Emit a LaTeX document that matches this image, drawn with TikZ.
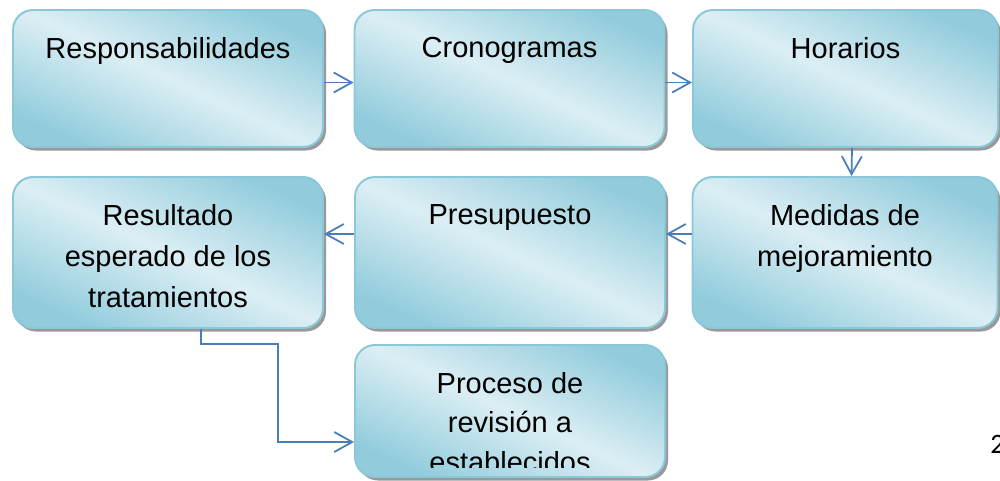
\documentclass[tikz,border=0pt]{standalone}
\usepackage{fontspec}
\setmainfont{Liberation Sans}
\newfontfamily\pagefont{Carlito}
\usetikzlibrary{arrows.meta,shadows}
\definecolor{boxdark}{RGB}{146,204,220}
\definecolor{boxlight}{RGB}{220,238,244}
\definecolor{boxline}{RGB}{138,199,216}
\definecolor{arrowblue}{RGB}{74,126,187}

\tikzset{
  box/.style={rounded corners=0.4cm, draw=boxline, line width=1.1pt,
    top color=boxdark, bottom color=boxdark, middle color=boxlight, shading angle=-25,
    minimum width=6.2cm,
    drop shadow={shadow xshift=0.06cm, shadow yshift=-0.07cm, fill=black!50, opacity=0.8}},
  boxtext/.style={anchor=north, yshift=-0.56cm, inner sep=0pt, align=center,
    font=\fontsize{16.5}{23.3}\selectfont},
  arr/.style={draw=arrowblue, line width=1pt, -{Straight Barb[length=3.6mm,width=4mm]}}
}

\begin{document}
\begin{tikzpicture}
\useasboundingbox (0,0) rectangle (20,-9.6);

% first row
\node[box, minimum height=2.74cm] (resp) at (3.36,-1.57) {};
\node[box, minimum height=2.74cm] (cron) at (10.19,-1.57) {};
\node[box, minimum height=2.74cm, minimum width=6.1cm] (hor) at (16.91,-1.57) {};
\node[boxtext] (resp-t) at (resp.north) {Responsabilidades};
\node[boxtext] (cron-t) at (cron.north) {Cronogramas};
\node[boxtext] (hor-t) at (hor.north) {Horarios};

% second row
\node[box, minimum height=3.02cm] (res) at (3.36,-5.05) {};
\node[box, minimum height=3.02cm] (pres) at (10.2,-5.05) {};
\node[box, minimum height=3.02cm, minimum width=6.1cm] (med) at (16.9,-5.05) {};
\node[boxtext] (res-t) at (res.north) {Resultado\\esperado de los\\tratamientos};
\node[boxtext] (pres-t) at (pres.north) {Presupuesto};
\node[boxtext] (med-t) at (med.north) {Medidas de\\mejoramiento};

% third row, text cut off at the bottom
\node[box, minimum height=2.64cm] (proc) at (10.2,-8.22) {};
\begin{scope}
\clip (proc.north west) rectangle ([yshift=0.2cm]proc.south east);
\node[boxtext, font=\fontsize{16.5}{22.4}\selectfont] (proc-t) at (proc.north) {Proceso de\\revisión a\\establecidos};
\end{scope}

% connectors
\draw[arr] ([yshift=-0.08cm]resp.east) -- ([yshift=-0.08cm]cron.west);
\draw[arr] ([yshift=-0.08cm]cron.east) -- ([yshift=-0.08cm]hor.west);
\draw[arr] ([xshift=0.13cm]hor.south) -- ([xshift=0.13cm]med.north);
\draw[arr] ([yshift=0.37cm]med.west) -- ([yshift=0.37cm]pres.east);
\draw[arr] ([yshift=0.37cm]pres.west) -- ([yshift=0.37cm]res.east);
\coordinate (turn) at (5.56,-6.88);
\draw[arr] ([xshift=0.66cm]res.south) |- (turn) |- ([yshift=-0.62cm]proc.west);

% page number
\node[font=\pagefont\fontsize{16}{16}\selectfont, anchor=base west, inner sep=0pt] (pagenum) at (19.8,-9.06) {2};
\end{tikzpicture}
\end{document}
